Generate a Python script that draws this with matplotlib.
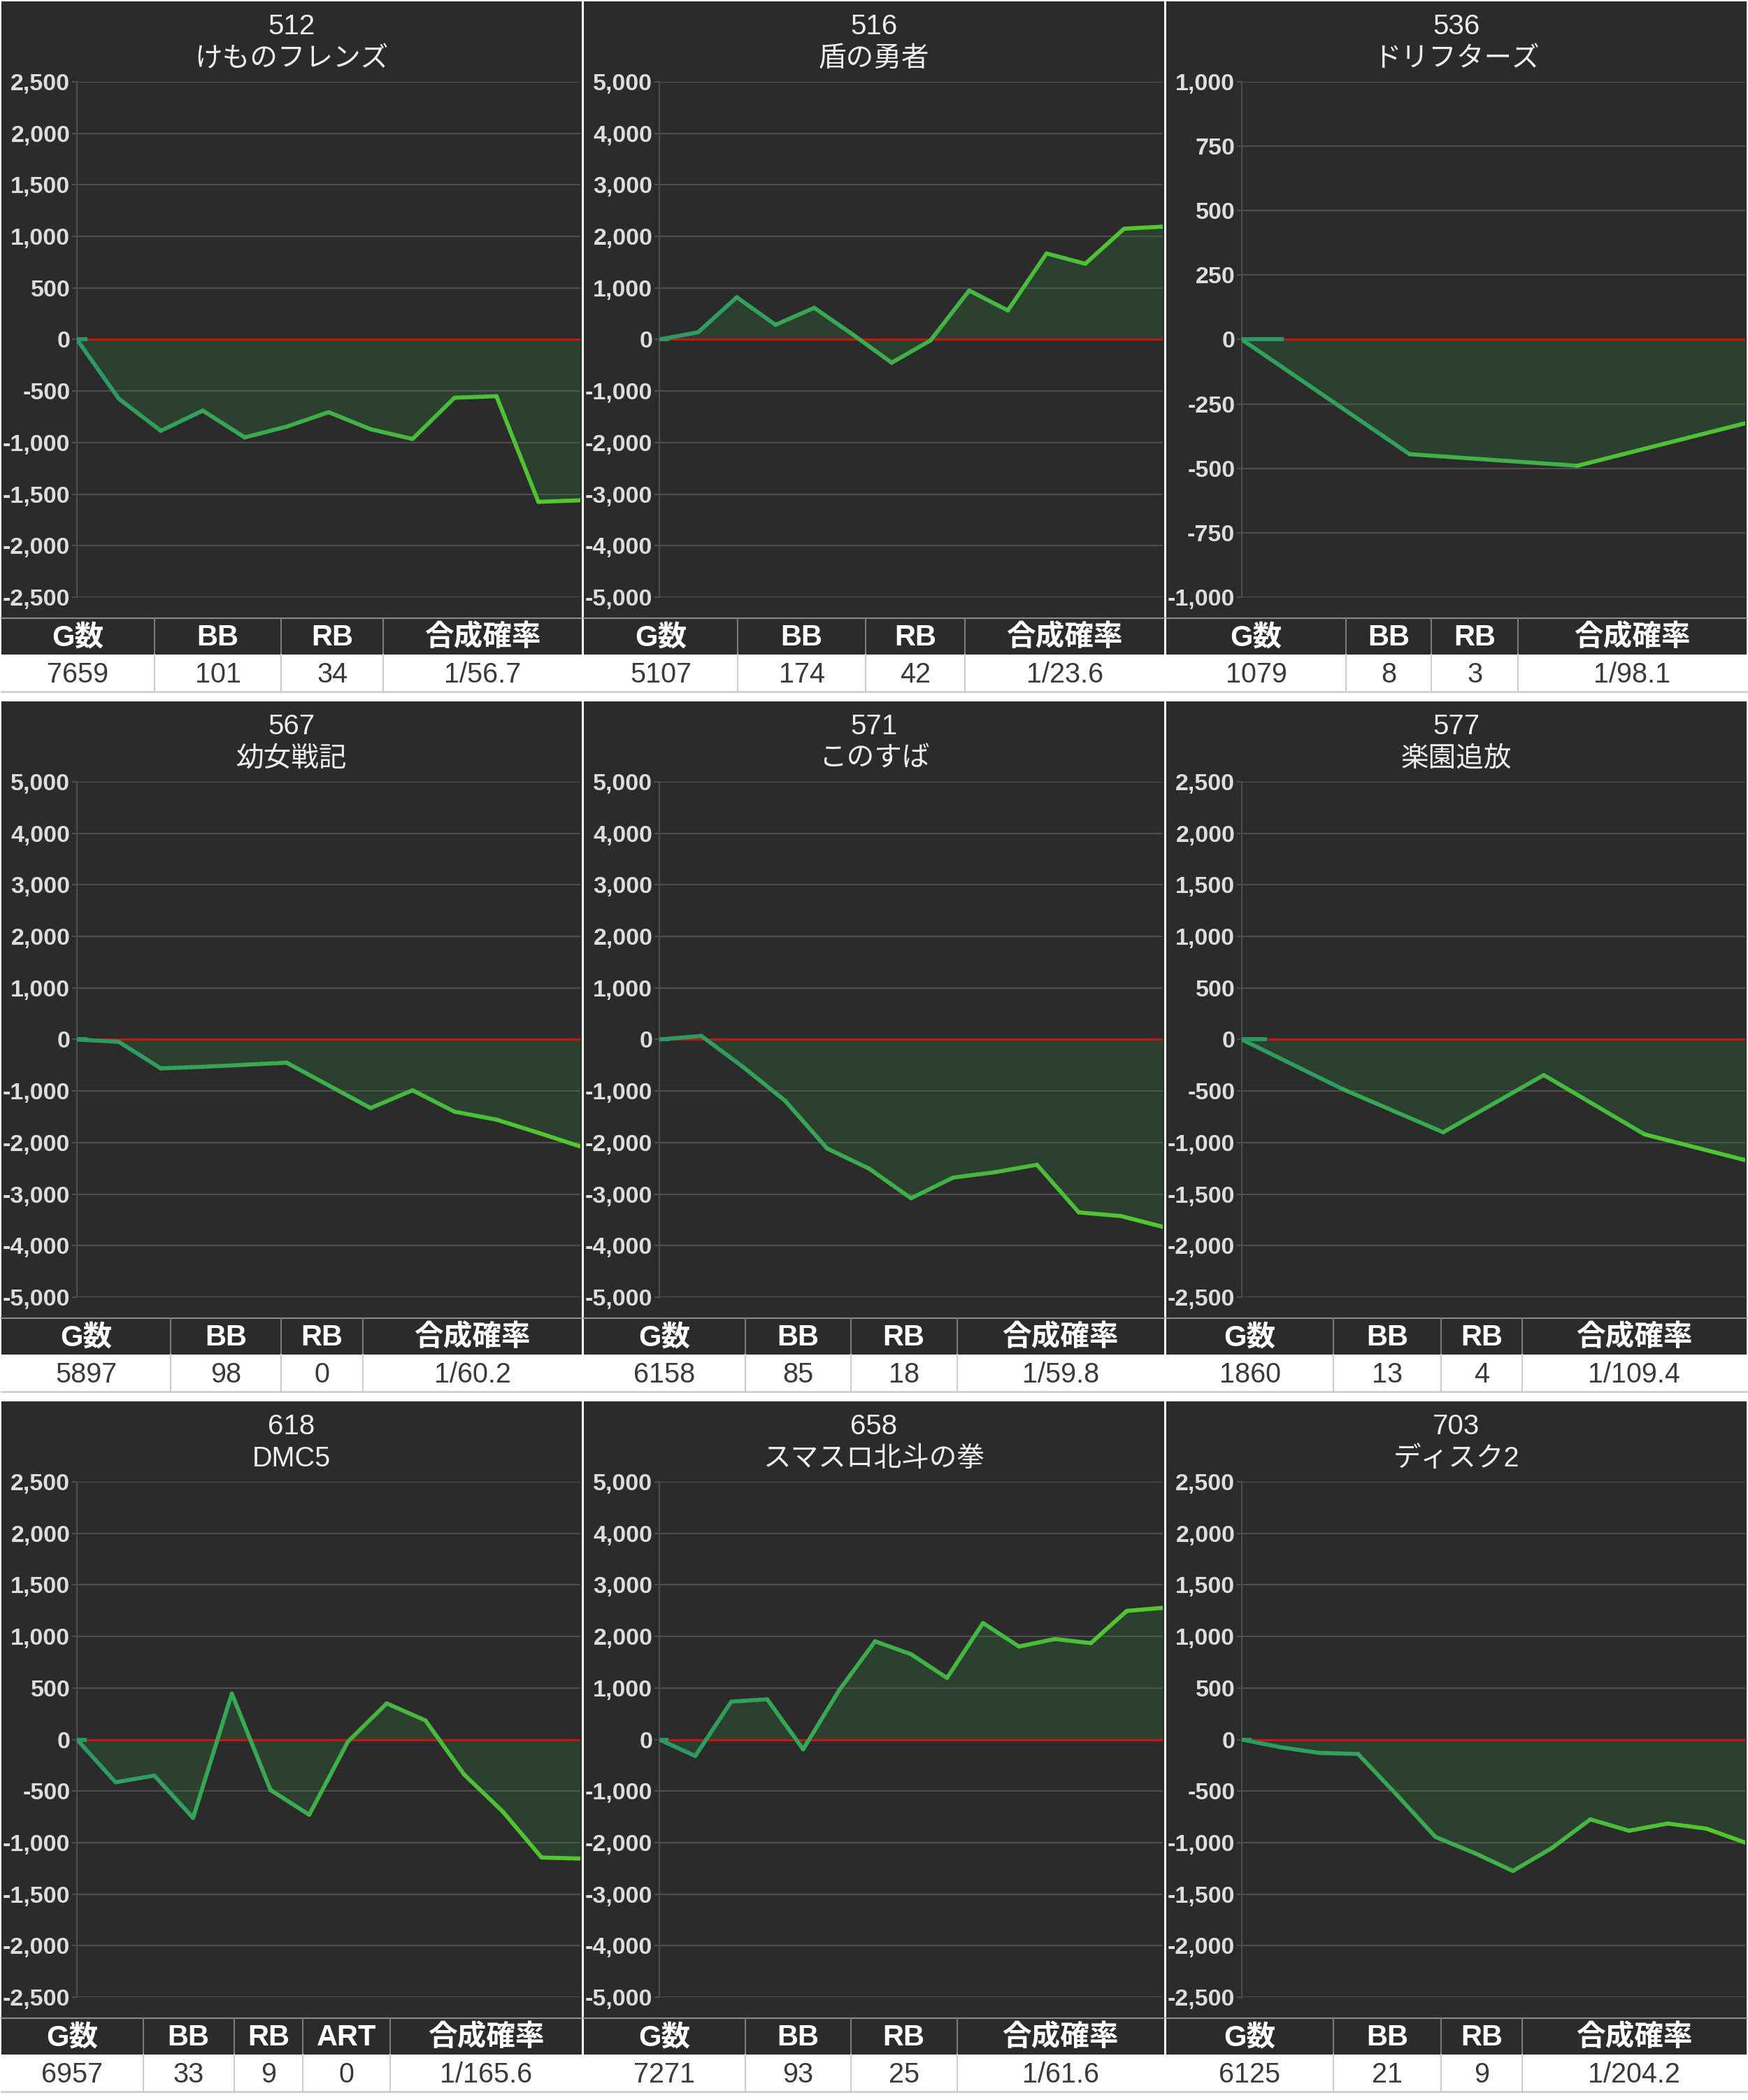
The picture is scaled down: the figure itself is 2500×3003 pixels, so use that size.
import numpy as np
import matplotlib.pyplot as plt
from matplotlib.collections import LineCollection
from matplotlib.patches import Rectangle
from matplotlib.colors import to_rgb

plt.rcParams['font.family'] = ['Liberation Sans', 'Noto Sans CJK JP']

# ---- data ----
room_ids = ['512', '516', '536', '567', '571', '577', '618', '658', '703']
machine_names = ['けものフレンズ', '盾の勇者', 'ドリフターズ', '幼女戦記', 'このすば',
                 '楽園追放', 'DMC5', 'スマスロ北斗の拳', 'ディスク2']
y_limits = [2500, 5000, 1000, 5000, 5000, 2500, 2500, 5000, 2500]
y_steps = [500, 1000, 250, 1000, 1000, 500, 500, 1000, 500]

diff_512 = [0, -575, -885, -690, -950, -845, -705, -870, -965, -565, -550, -1575, -1560]
diff_516 = [0, 140, 820, 285, 615, 95, -450, -20, 950, 565, 1670, 1470, 2150, 2190]
diff_536 = [0, -445, -490, -325]
diff_567 = [0, -45, -560, -530, -490, -450, -890, -1330, -985, -1400, -1555, -1810, -2075]
diff_571 = [0, 70, -535, -1190, -2115, -2505, -3080, -2680, -2575, -2430, -3355, -3425, -3635]
diff_577 = [0, -480, -900, -345, -920, -1170]
diff_618 = [0, -415, -350, -760, 445, -490, -730, -20, 350, 185, -340, -700, -1145, -1155]
diff_658 = [0, -320, 735, 780, -190, 955, 1905, 1655, 1195, 2260, 1805, 1950, 1870, 2495, 2555]
diff_703 = [0, -75, -130, -140, -535, -945, -1100, -1275, -1055, -775, -885, -815, -865, -1000]
series = [diff_512, diff_516, diff_536, diff_567, diff_571, diff_577, diff_618, diff_658, diff_703]

table_headers = [['G数', 'BB', 'RB', '合成確率']] * 6 + [['G数', 'BB', 'RB', 'ART', '合成確率']] + \
                [['G数', 'BB', 'RB', '合成確率']] * 2
table_values = [
    ['7659', '101', '34', '1/56.7'],
    ['5107', '174', '42', '1/23.6'],
    ['1079', '8', '3', '1/98.1'],
    ['5897', '98', '0', '1/60.2'],
    ['6158', '85', '18', '1/59.8'],
    ['1860', '13', '4', '1/109.4'],
    ['6957', '33', '9', '0', '1/165.6'],
    ['7271', '93', '25', '1/61.6'],
    ['6125', '21', '9', '1/204.2'],
]

# ---- layout (pixels) ----
W, H = 2500, 3003
panel_lefts = [2, 835, 1668]
row_tops = [2, 1003, 2004]
panel_w = 830
col_edges = [
    [0.264, 0.482, 0.658],
    [0.265, 0.486, 0.657],
    [0.310, 0.457, 0.606],
    [0.292, 0.482, 0.623],
    [0.278, 0.460, 0.643],
    [0.288, 0.474, 0.613],
    [0.244, 0.401, 0.519, 0.670],
    [0.278, 0.460, 0.643],
    [0.288, 0.474, 0.613],
]

dark = '#2b2b2b'
grid_c = '#4e4e4e'
line_start = np.array(to_rgb('#2a9864'))
line_end = np.array(to_rgb('#55c92c'))
red_start = 0.25

fig = plt.figure(figsize=(W / 100, H / 100), dpi=100)
fig.patch.set_facecolor('white')
bg = fig.add_axes([0, 0, 1, 1])
bg.set_xlim(0, W)
bg.set_ylim(H, 0)
bg.axis('off')

for i in range(9):
    r, c = divmod(i, 3)
    px, py = panel_lefts[c], row_tops[r]

    # panel background + table
    bg.add_patch(Rectangle((px, py), panel_w, 934, facecolor=dark, edgecolor='none'))
    bg.plot([px, px + panel_w], [py + 882, py + 882], color='#8c8c8c', lw=1.5)
    bg.add_patch(Rectangle((px, py + 934), panel_w, 53, facecolor='white', edgecolor='none'))
    bg.plot([px, px + panel_w], [py + 987, py + 987], color='#cfcfcf', lw=2)
    edges = [0] + col_edges[i] + [1]
    for e in col_edges[i]:
        xx = px + e * panel_w
        bg.plot([xx, xx], [py + 882, py + 934], color='#7a7a7a', lw=1.5)
        bg.plot([xx, xx], [py + 934, py + 987], color='#cccccc', lw=1.5)
    for k, (hd, val) in enumerate(zip(table_headers[i], table_values[i])):
        cx = px + (edges[k] + edges[k + 1]) / 2 * panel_w
        bg.text(cx, py + 910, hd, ha='center', va='center', color='white',
                fontsize=30, fontweight='bold')
        bg.text(cx, py + 963, val, ha='center', va='center', color='#3a3a3a', fontsize=28.5)

    # titles
    bg.text(px + panel_w / 2, py + 36, room_ids[i], ha='center', va='center',
            color='#eeeeee', fontsize=29)
    bg.text(px + panel_w / 2, py + 82, machine_names[i], ha='center', va='center',
            color='#eeeeee', fontsize=28.5)

    # chart
    ax = fig.add_axes([(px + 108) / W, 1 - (py + 852) / H, (panel_w - 110) / W, (852 - 115) / H])
    ax.patch.set_alpha(0)
    y = np.array(series[i], dtype=float)
    x = np.arange(len(y))
    lim, step = y_limits[i], y_steps[i]
    ticks = np.arange(-lim, lim + step, step)
    ax.set_xlim(0, len(y) - 1)
    ax.set_ylim(-lim, lim)
    ax.set_yticks(ticks)
    ax.set_yticklabels([f'{int(t):,}' for t in ticks], fontweight='bold')
    ax.set_xticks([])
    ax.tick_params(axis='y', length=5, width=1.5, color=grid_c, labelcolor='#dddddd',
                   labelsize=24.5, pad=2)
    ax.grid(axis='y', color=grid_c, lw=1.5)
    ax.set_axisbelow(True)
    for s in ['top', 'right', 'bottom']:
        ax.spines[s].set_visible(False)
    ax.spines['left'].set_color(grid_c)
    ax.spines['left'].set_linewidth(1.5)

    ax.fill_between(x, y, 0, color='#2e8b3a', alpha=0.22, lw=0, zorder=2)
    ax.hlines(0, red_start, len(y) - 1, color='#c8170f', lw=2.2, zorder=3)
    ax.hlines(0, 0, red_start, color=line_start, lw=4.2, zorder=3)

    pts = np.column_stack([x, y])
    segs = np.stack([pts[:-1], pts[1:]], axis=1)
    frac = (x[:-1] + 0.5) / (len(y) - 1)
    cols = [tuple(line_start + (line_end - line_start) * f) for f in frac]
    lc = LineCollection(segs, colors=cols, linewidths=4.2, capstyle='round', zorder=4)
    ax.add_collection(lc)

fig.savefig('out.png', dpi=100, facecolor='white')
